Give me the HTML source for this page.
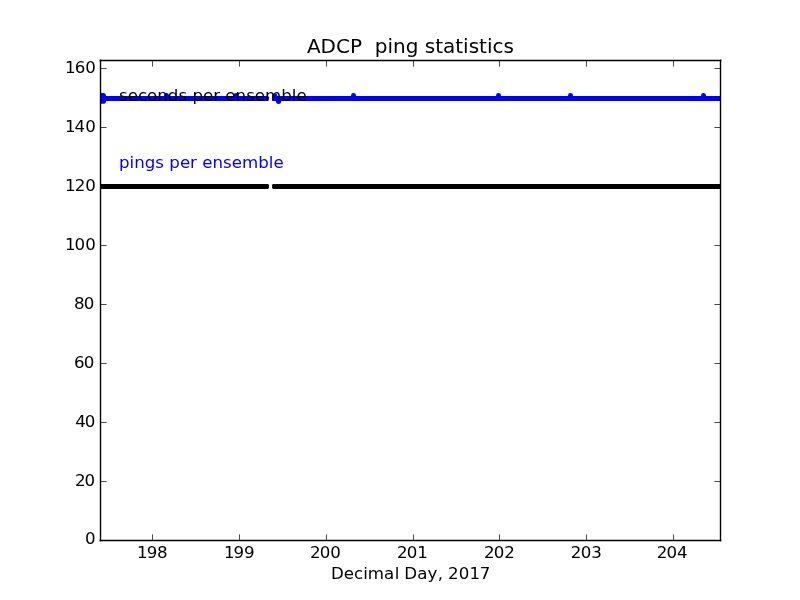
<!DOCTYPE html>
<html lang="en">
<head>
<meta charset="utf-8">
<title>ADCP ping statistics</title>
<style>
html,body{margin:0;padding:0;background:#fff;}
body{width:800px;height:600px;overflow:hidden;}
svg{display:block;}
text{font-family:"DejaVu Sans","Liberation Sans",sans-serif;fill:#000;}
.t{font-size:16.67px;}
.ttl{font-size:20px;}
</style>
</head>
<body>
<svg width="800" height="600" viewBox="0 0 800 600">
<rect x="0" y="0" width="800" height="600" fill="#fff"/>
<defs><clipPath id="ax"><rect x="100" y="60" width="620.5" height="480.5"/></clipPath></defs>

<!-- data -->
<g clip-path="url(#ax)">
  <!-- seconds per ensemble (blue) -->
  <g fill="#0000ff" stroke="none">
    <rect x="90" y="95.95" width="178.9" height="5.1" rx="1.3"/>
    <rect x="272.1" y="95.95" width="460" height="5.1" rx="1.3"/>
    <rect x="96" y="92.9" width="9.9" height="10.95" rx="2.7"/>
    <circle cx="274.7" cy="95.85" r="2.6"/>
    <circle cx="278.6" cy="101.3" r="2.6"/>
    <circle cx="166.5" cy="95.5" r="2.45"/>
    <circle cx="236.1" cy="95.5" r="2.45"/>
    <circle cx="353.5" cy="95.5" r="2.45"/>
    <circle cx="498.5" cy="95.5" r="2.45"/>
    <circle cx="570.5" cy="95.5" r="2.45"/>
    <circle cx="703.5" cy="95.5" r="2.45"/>
  </g>
  <!-- pings per ensemble (black) -->
  <g fill="#000" stroke="none">
    <rect x="90" y="183.9" width="178.9" height="5" rx="1.3"/>
    <rect x="272.1" y="183.9" width="460" height="5" rx="1.3"/>
  </g>
</g>

<!-- annotations -->
<text class="t" x="119" y="101">seconds per ensemble</text>
<text class="t" x="119" y="168" style="fill:#0000ff">pings per ensemble</text>

<!-- ticks -->
<g stroke="#000" stroke-width="0.7" fill="none">
  <path d="M152.5 540.5V534.4M239.5 540.5V534.4M326.5 540.5V534.4M413.5 540.5V534.4M499.5 540.5V534.4M586.5 540.5V534.4M673.5 540.5V534.4"/>
  <path d="M152.5 60.5V66.6M239.5 60.5V66.6M326.5 60.5V66.6M413.5 60.5V66.6M499.5 60.5V66.6M586.5 60.5V66.6M673.5 60.5V66.6"/>
  <path d="M100.5 481.5H106.6M100.5 422.5H106.6M100.5 363.5H106.6M100.5 304.5H106.6M100.5 245.5H106.6M100.5 186.5H106.6M100.5 127.5H106.6M100.5 68.5H106.6"/>
  <path d="M720.5 481.5H714.4M720.5 422.5H714.4M720.5 363.5H714.4M720.5 304.5H714.4M720.5 245.5H714.4M720.5 186.5H714.4M720.5 127.5H714.4M720.5 68.5H714.4"/>
</g>

<!-- spines -->
<path d="M100.2 60.5H720.8M100.2 540.5H720.8M100.5 60.2V540.8M720.5 60.2V540.8" fill="none" stroke="#000" stroke-width="1.39" stroke-linecap="square"/>

<!-- x tick labels -->
<g class="t">
  <text x="136.9 146.7 157.05" y="558">198</text>
  <text x="223.9 233.5 244.1" y="558">199</text>
  <text x="310.0 319.75 330.35" y="558">200</text>
  <text x="397.05 406.8 417.15" y="558">201</text>
  <text x="484.1 493.75 504.2" y="558">202</text>
  <text x="570.85 580.8 591.15" y="558">203</text>
  <text x="656.7 666.6 677.0" y="558">204</text>
</g>
<!-- y tick labels -->
<g class="t">
  <text x="85.0" y="544">0</text>
  <text x="74.9 84.5" y="486">20</text>
  <text x="75.2 84.8" y="427">40</text>
  <text x="74.0 83.7" y="368">60</text>
  <text x="74.0 83.7" y="309">80</text>
  <text x="65.0 74.5 85.3" y="250">100</text>
  <text x="65.05 74.7 85.3" y="191">120</text>
  <text x="65.05 74.45 85.3" y="132">140</text>
  <text x="65.1 74.8 85.3" y="73">160</text>
</g>

<text class="ttl" x="410.4" y="53" text-anchor="middle" xml:space="preserve" style="white-space:pre">ADCP  ping statistics</text>
<text class="t" x="330.95 343.77 354.02 363.17 367.8 384.03 394.63 398.86 404.16 417.13 427.59 437.75 442.34 447.89 458.78 469.43 479.72" y="579.4">Decimal Day, 2017</text>
</svg>
</body>
</html>
